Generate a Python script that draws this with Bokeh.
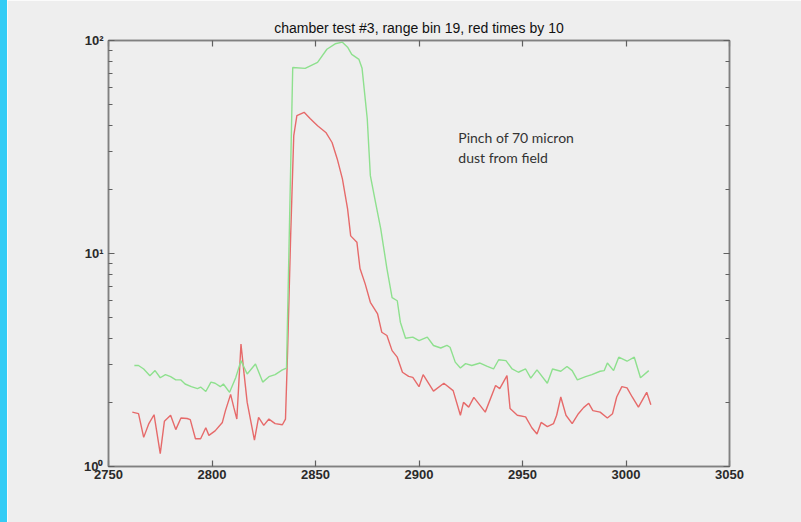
from bokeh.plotting import figure
from bokeh.models import Range1d, FixedTicker, LinearAxis, LogAxis, Label, Div, Title
from bokeh.layouts import row
from bokeh.embed import file_html
from bokeh.resources import INLINE

# ---- data ----
red_x = [2761.5, 2764.5, 2767, 2769.5, 2772, 2775, 2777, 2780, 2782.5, 2785, 2788, 2789.5,
         2792, 2794.5, 2797, 2798.5, 2801.5, 2805, 2806.5, 2809, 2810.5, 2812, 2814, 2815.5,
         2817, 2820.5, 2822.5, 2825, 2827.5, 2830.5, 2834, 2835.5, 2836.5, 2838, 2839.5, 2841,
         2844.5, 2847.5, 2851, 2855, 2858, 2860.5, 2863, 2865.5, 2867, 2870, 2871.5, 2874,
         2876.5, 2880, 2882, 2884.5, 2887, 2889.5, 2892, 2895, 2897, 2900, 2902, 2907, 2912,
         2916.5, 2920, 2921.5, 2924, 2926.5, 2932, 2937, 2939, 2942.5, 2944, 2947.5, 2951.5,
         2954.5, 2957, 2959, 2962, 2965, 2966.5, 2968.5, 2971, 2974, 2977, 2979.5, 2982, 2984,
         2987.5, 2991, 2993.5, 2995.5, 2998, 3000.5, 3003, 3006, 3010, 3012]
red_y = [1.80, 1.77, 1.37, 1.59, 1.75, 1.15, 1.63, 1.74, 1.49, 1.69, 1.68, 1.66,
         1.35, 1.35, 1.52, 1.40, 1.47, 1.61, 1.83, 2.18, 1.90, 1.67, 3.76, 2.72,
         2.00, 1.33, 1.70, 1.56, 1.67, 1.59, 1.57, 1.67, 3.44, 12.1, 35.8, 44.4,
         46.0, 42.9, 39.8, 37.0, 33.2, 27.8, 22.4, 16.2, 12.1, 11.3, 8.5, 7.2,
         5.9, 5.2, 4.27, 4.12, 3.50, 3.26, 2.77, 2.65, 2.62, 2.37, 2.70, 2.26, 2.46,
         2.27, 1.74, 2.00, 1.90, 2.11, 1.80, 2.40, 2.32, 2.67, 1.87, 1.74, 1.71,
         1.52, 1.42, 1.61, 1.54, 1.59, 1.74, 2.12, 1.74, 1.59, 1.77, 1.89, 1.98, 1.83,
         1.80, 1.69, 1.77, 2.12, 2.37, 2.34, 2.12, 1.90, 2.23, 1.95]

green_x = [2762.5, 2764.5, 2767, 2770, 2772.5, 2775, 2777.5, 2780, 2782.5, 2785, 2787, 2790,
           2793, 2794.5, 2797, 2799.5, 2801.5, 2804, 2805.5, 2808.5, 2811.5, 2814, 2817, 2821,
           2824.5, 2827.5, 2830.5, 2834, 2836, 2839, 2845, 2851, 2855.5, 2859.5, 2863, 2865.5,
           2867.5, 2871, 2872.5, 2875, 2876.5, 2879, 2881.5, 2884.5, 2887, 2889.5, 2891, 2893.5,
           2897, 2900, 2904, 2907, 2910.5, 2913.5, 2915, 2917.5, 2920, 2922.5, 2925.5, 2929.5,
           2933, 2936, 2938.5, 2942, 2945, 2948, 2951.5, 2954, 2957, 2962, 2964.5, 2968.5,
           2971.5, 2974, 2976.5, 2980.5, 2983.5, 2987.5, 2989.5, 2991, 2994, 2996.5, 3000.5,
           3004, 3007, 3011]
green_y = [2.98, 2.98, 2.87, 2.67, 2.82, 2.61, 2.70, 2.64, 2.55, 2.55, 2.44, 2.37,
           2.32, 2.36, 2.25, 2.49, 2.46, 2.37, 2.44, 2.23, 2.62, 3.14, 2.72, 3.03,
           2.49, 2.64, 2.70, 2.84, 2.90, 74.7, 74.0, 79.0, 91.0, 96.5, 98.2, 93.0,
           86.0, 81.5, 74.0, 42.9, 23.2, 17.4, 13.1, 8.5, 6.2, 6.0, 4.76, 4.0,
           4.05, 3.9, 4.05, 3.7, 3.6, 3.7, 3.63, 3.09, 2.9, 3.04, 2.98, 3.06,
           2.95, 2.87, 3.17, 3.14, 2.87, 2.77, 2.87, 2.6, 2.84, 2.46, 2.87, 2.80,
           2.95, 2.82, 2.55, 2.64, 2.70, 2.80, 2.82, 3.06, 2.82, 3.26, 3.12,
           3.26, 2.61, 2.82]

x_ticks = [2750, 2800, 2850, 2900, 2950, 3000, 3050]
y_tick_labels = {1: "10\u2070", 10: "10\u00b9", 100: "10\u00b2"}
title_text = "chamber test #3, range bin 19, red times by 10"
note_lines = ["Pinch of 70 micron", "dust from field"]

BG = "#eeeeee"
AX = "#808080"
LBL = "#2a2a2a"
FONT = "Liberation Sans"

p = figure(width=794, height=522, y_axis_type="log",
           x_range=Range1d(2750, 3050), y_range=Range1d(1, 100),
           output_backend="svg", toolbar_location=None,
           background_fill_color=BG, border_fill_color=BG,
           min_border_left=101, min_border_right=72, min_border_top=40, min_border_bottom=56)
p.title = Title(text=title_text, align="center", text_font=FONT, text_font_size="14px",
                text_font_style="normal", text_color="#111111", standoff=10)
p.grid.visible = False
p.outline_line_color = AX
p.outline_line_width = 1.5

p.line(red_x, red_y, line_color="#e66a6a", line_width=1.4)
p.line(green_x, green_y, line_color="#8ee08e", line_width=1.4)

def style_axis(ax, show_labels):
    ax.axis_line_color = AX
    ax.axis_line_width = 1.5
    ax.major_tick_line_color = "#606060"
    ax.major_tick_line_width = 1.2
    ax.minor_tick_line_color = "#606060"
    ax.minor_tick_line_width = 1.2
    ax.major_tick_in = 6
    ax.major_tick_out = 0
    ax.minor_tick_in = 4
    ax.minor_tick_out = 0
    ax.major_label_text_font = FONT
    ax.major_label_text_font_size = "13px" if show_labels else "0px"
    ax.major_label_text_font_style = "bold"
    ax.major_label_text_color = LBL
    ax.major_label_standoff = 3

xb = p.xaxis[0]
xb.ticker = FixedTicker(ticks=x_ticks)
style_axis(xb, True)
xb.minor_tick_line_color = None

yl = p.yaxis[0]
style_axis(yl, True)
yl.major_label_overrides = y_tick_labels
yl.major_label_standoff = 5

xt = LinearAxis(ticker=FixedTicker(ticks=x_ticks))
style_axis(xt, False)
xt.minor_tick_line_color = None
xt.major_label_text_alpha = 0
p.add_layout(xt, "above")

yr = LogAxis()
style_axis(yr, False)
yr.major_label_text_alpha = 0
p.add_layout(yr, "right")

p.add_layout(Label(x=2919, y=35, text=note_lines[0], text_font="Lato", text_font_size="14px",
                   text_color="#333333", text_baseline="middle"))
p.add_layout(Label(x=2919, y=28.3, text=note_lines[1], text_font="Lato", text_font_size="14px",
                   text_color="#333333", text_baseline="middle"))

strip = Div(width=7, height=522, styles={"background-color": "#33ccf5", "margin": "0"})
layout = row(strip, p, spacing=0)

open("out.html", "w").write(file_html(layout, INLINE))
